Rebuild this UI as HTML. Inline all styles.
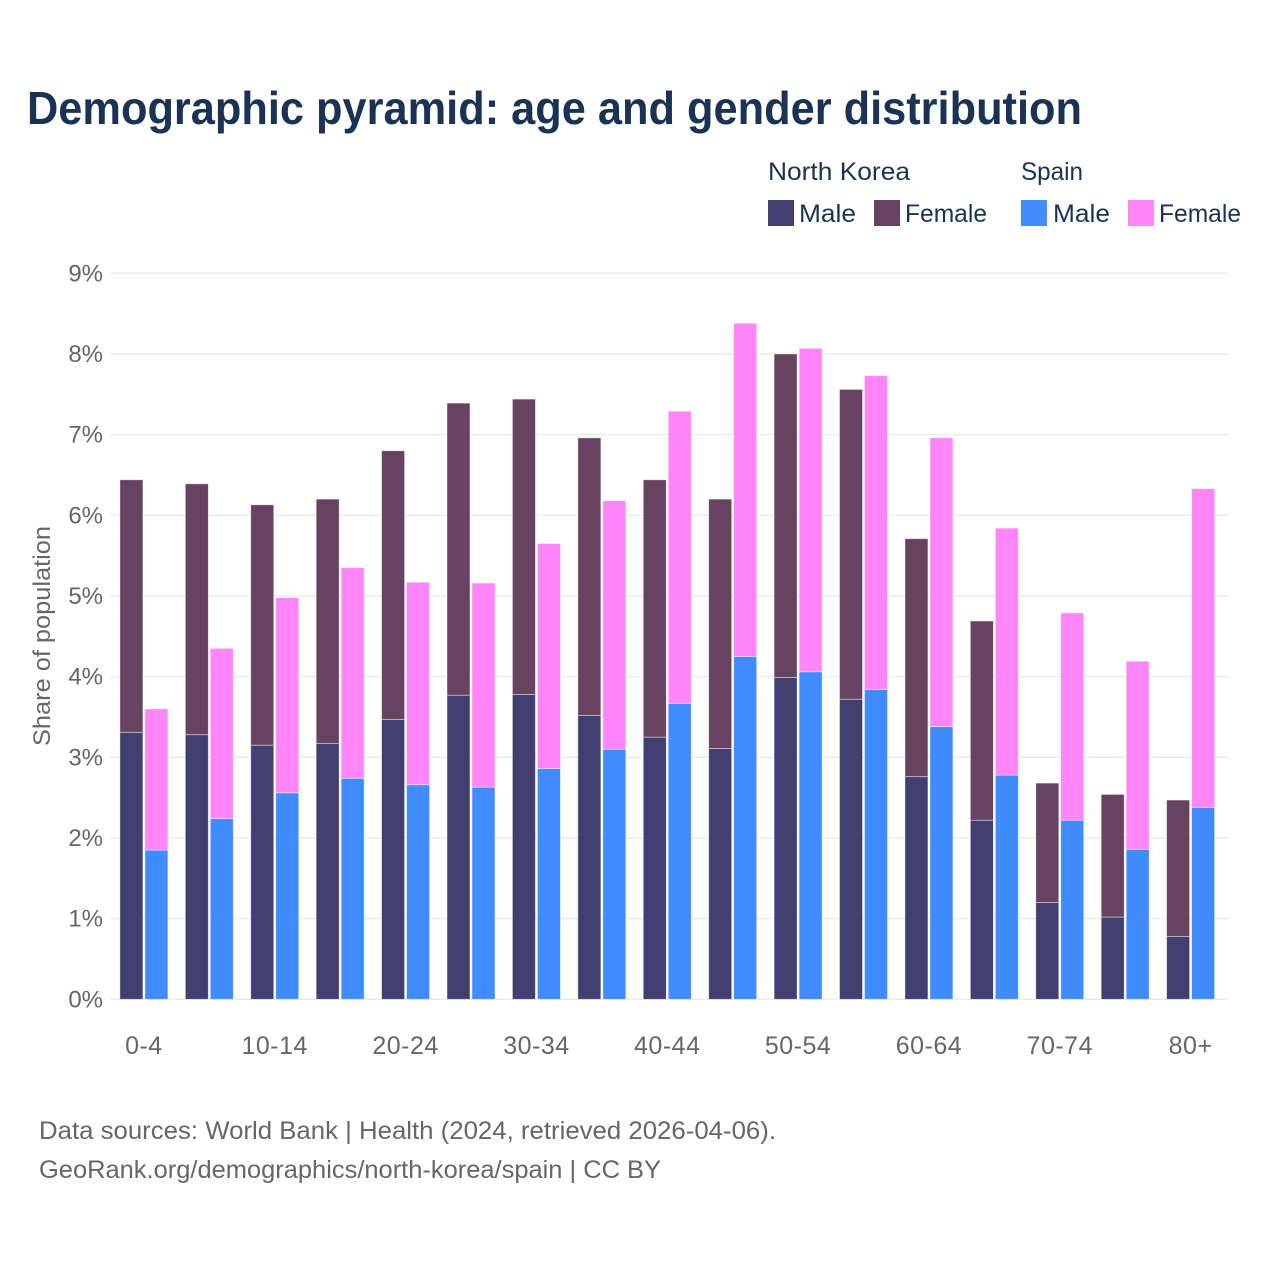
<!DOCTYPE html>
<html lang="en">
<head>
<meta charset="utf-8">
<title>Demographic pyramid</title>
<style>
html,body{margin:0;padding:0;background:#fff}
svg{display:block}
text{font-family:"Liberation Sans",sans-serif}
.title{font-weight:700;font-size:46px;fill:#1a3354}
.leg{font-size:25px;fill:#1a3354}
.tick{font-size:24px;fill:#666}
.foot{font-size:25px;fill:#666}
</style>
</head>
<body>
<svg id="chart" xmlns="http://www.w3.org/2000/svg" width="1280" height="1280" viewBox="0 0 1280 1280">
<rect x="0" y="0" width="1280" height="1280" fill="#fff"/>
<text class="title" x="27" y="124" textLength="1055" lengthAdjust="spacingAndGlyphs">Demographic pyramid: age and gender distribution</text>
<g>
<text class="leg" x="768" y="180" textLength="142" lengthAdjust="spacingAndGlyphs">North Korea</text>
<text class="leg" x="1021" y="180" textLength="62" lengthAdjust="spacingAndGlyphs">Spain</text>
<rect x="768" y="200" width="26" height="26" fill="#423e70"/>
<text class="leg" x="799" y="222" textLength="57" lengthAdjust="spacingAndGlyphs">Male</text>
<rect x="874" y="200" width="26" height="26" fill="#674261"/>
<text class="leg" x="905" y="222" textLength="82" lengthAdjust="spacingAndGlyphs">Female</text>
<rect x="1021" y="200" width="26" height="26" fill="#408cff"/>
<text class="leg" x="1053" y="222" textLength="57" lengthAdjust="spacingAndGlyphs">Male</text>
<rect x="1128" y="200" width="26" height="26" fill="#ff85f8"/>
<text class="leg" x="1159" y="222" textLength="82" lengthAdjust="spacingAndGlyphs">Female</text>
</g>
<g id="grid"></g>
<g id="yticks"></g>
<g id="bars"></g>
<g id="xticks"></g>
<text class="tick" x="0" y="0" transform="translate(50,746) rotate(-90)" textLength="220" lengthAdjust="spacingAndGlyphs">Share of population</text>
<text class="foot" x="39" y="1139" textLength="737" lengthAdjust="spacingAndGlyphs">Data sources: World Bank | Health (2024, retrieved 2026-04-06).</text>
<text class="foot" x="39" y="1178" textLength="622" lengthAdjust="spacingAndGlyphs">GeoRank.org/demographics/north-korea/spain | CC BY</text>
</svg>
<script>
const categories = ['0-4','5-9','10-14','15-19','20-24','25-29','30-34','35-39','40-44','45-49','50-54','55-59','60-64','65-69','70-74','75-79','80+'];
const xTickLabels = ['0-4','10-14','20-24','30-34','40-44','50-54','60-64','70-74','80+'];
const yTicks = [0,1,2,3,4,5,6,7,8,9];
const northKoreaMale = [3.31,3.28,3.15,3.17,3.47,3.77,3.78,3.52,3.25,3.11,3.99,3.72,2.76,2.22,1.20,1.02,0.78];
const northKoreaFemale = [3.13,3.11,2.98,3.03,3.33,3.62,3.66,3.44,3.19,3.09,4.01,3.84,2.95,2.47,1.48,1.52,1.69];
const spainMale = [1.85,2.24,2.56,2.74,2.66,2.63,2.86,3.10,3.67,4.25,4.06,3.84,3.38,2.78,2.22,1.86,2.38];
const spainFemale = [1.75,2.11,2.42,2.61,2.51,2.53,2.79,3.08,3.62,4.13,4.01,3.89,3.58,3.06,2.57,2.33,3.95];

const NS = 'http://www.w3.org/2000/svg';
const yScale = function (v) { return 999.3 - v * 80.67; };
const xScale = function (i) { return 143.9 + i * 65.42; };
const barWidth = 23;

function makeEl(tag, parent, attrs) {
  const el = document.createElementNS(NS, tag);
  for (const k in attrs) el.setAttribute(k, attrs[k]);
  parent.appendChild(el);
  return el;
}

const gridGroup = document.getElementById('grid');
const yTickGroup = document.getElementById('yticks');
yTicks.forEach(function (t) {
  const line = makeEl('line', gridGroup, {x1: 110, x2: 1228, y1: yScale(t), y2: yScale(t), stroke: '#ebebeb', 'stroke-width': 1.5});
  
  
  const label = makeEl('text', yTickGroup, {x: 103, y: yScale(t) + 8, 'text-anchor': 'end', 'class': 'tick'});
  
  
  label.textContent = t + '%';
});

const barGroup = document.getElementById('bars');
function addBar(x, base, value, fill, name) {
  const top = yScale(base + value);
  const bottom = yScale(base);
  const r = makeEl('rect', barGroup, {x: x, y: top, width: barWidth, height: bottom - top, fill: fill, stroke: '#fff', 'stroke-opacity': 0.55, 'stroke-width': 0.8});
  
  
}
categories.forEach(function (c, i) {
  const cx = xScale(i);
  addBar(cx - 24, 0, northKoreaMale[i], '#423e70', 'bar-north-korea-male-' + c);
  addBar(cx - 24, northKoreaMale[i], northKoreaFemale[i], '#674261', 'bar-north-korea-female-' + c);
  addBar(cx + 1, 0, spainMale[i], '#408cff', 'bar-spain-male-' + c);
  addBar(cx + 1, spainMale[i], spainFemale[i], '#ff85f8', 'bar-spain-female-' + c);
});

const xTickGroup = document.getElementById('xticks');
xTickLabels.forEach(function (lab) {
  const i = categories.indexOf(lab);
  const t = makeEl('text', xTickGroup, {x: xScale(i), y: 1054, 'text-anchor': 'middle', 'class': 'tick', 'letter-spacing': '0.5'});
  
  
  t.style.fontSize = '25px';
  t.textContent = lab;
});
</script>
</body>
</html>
